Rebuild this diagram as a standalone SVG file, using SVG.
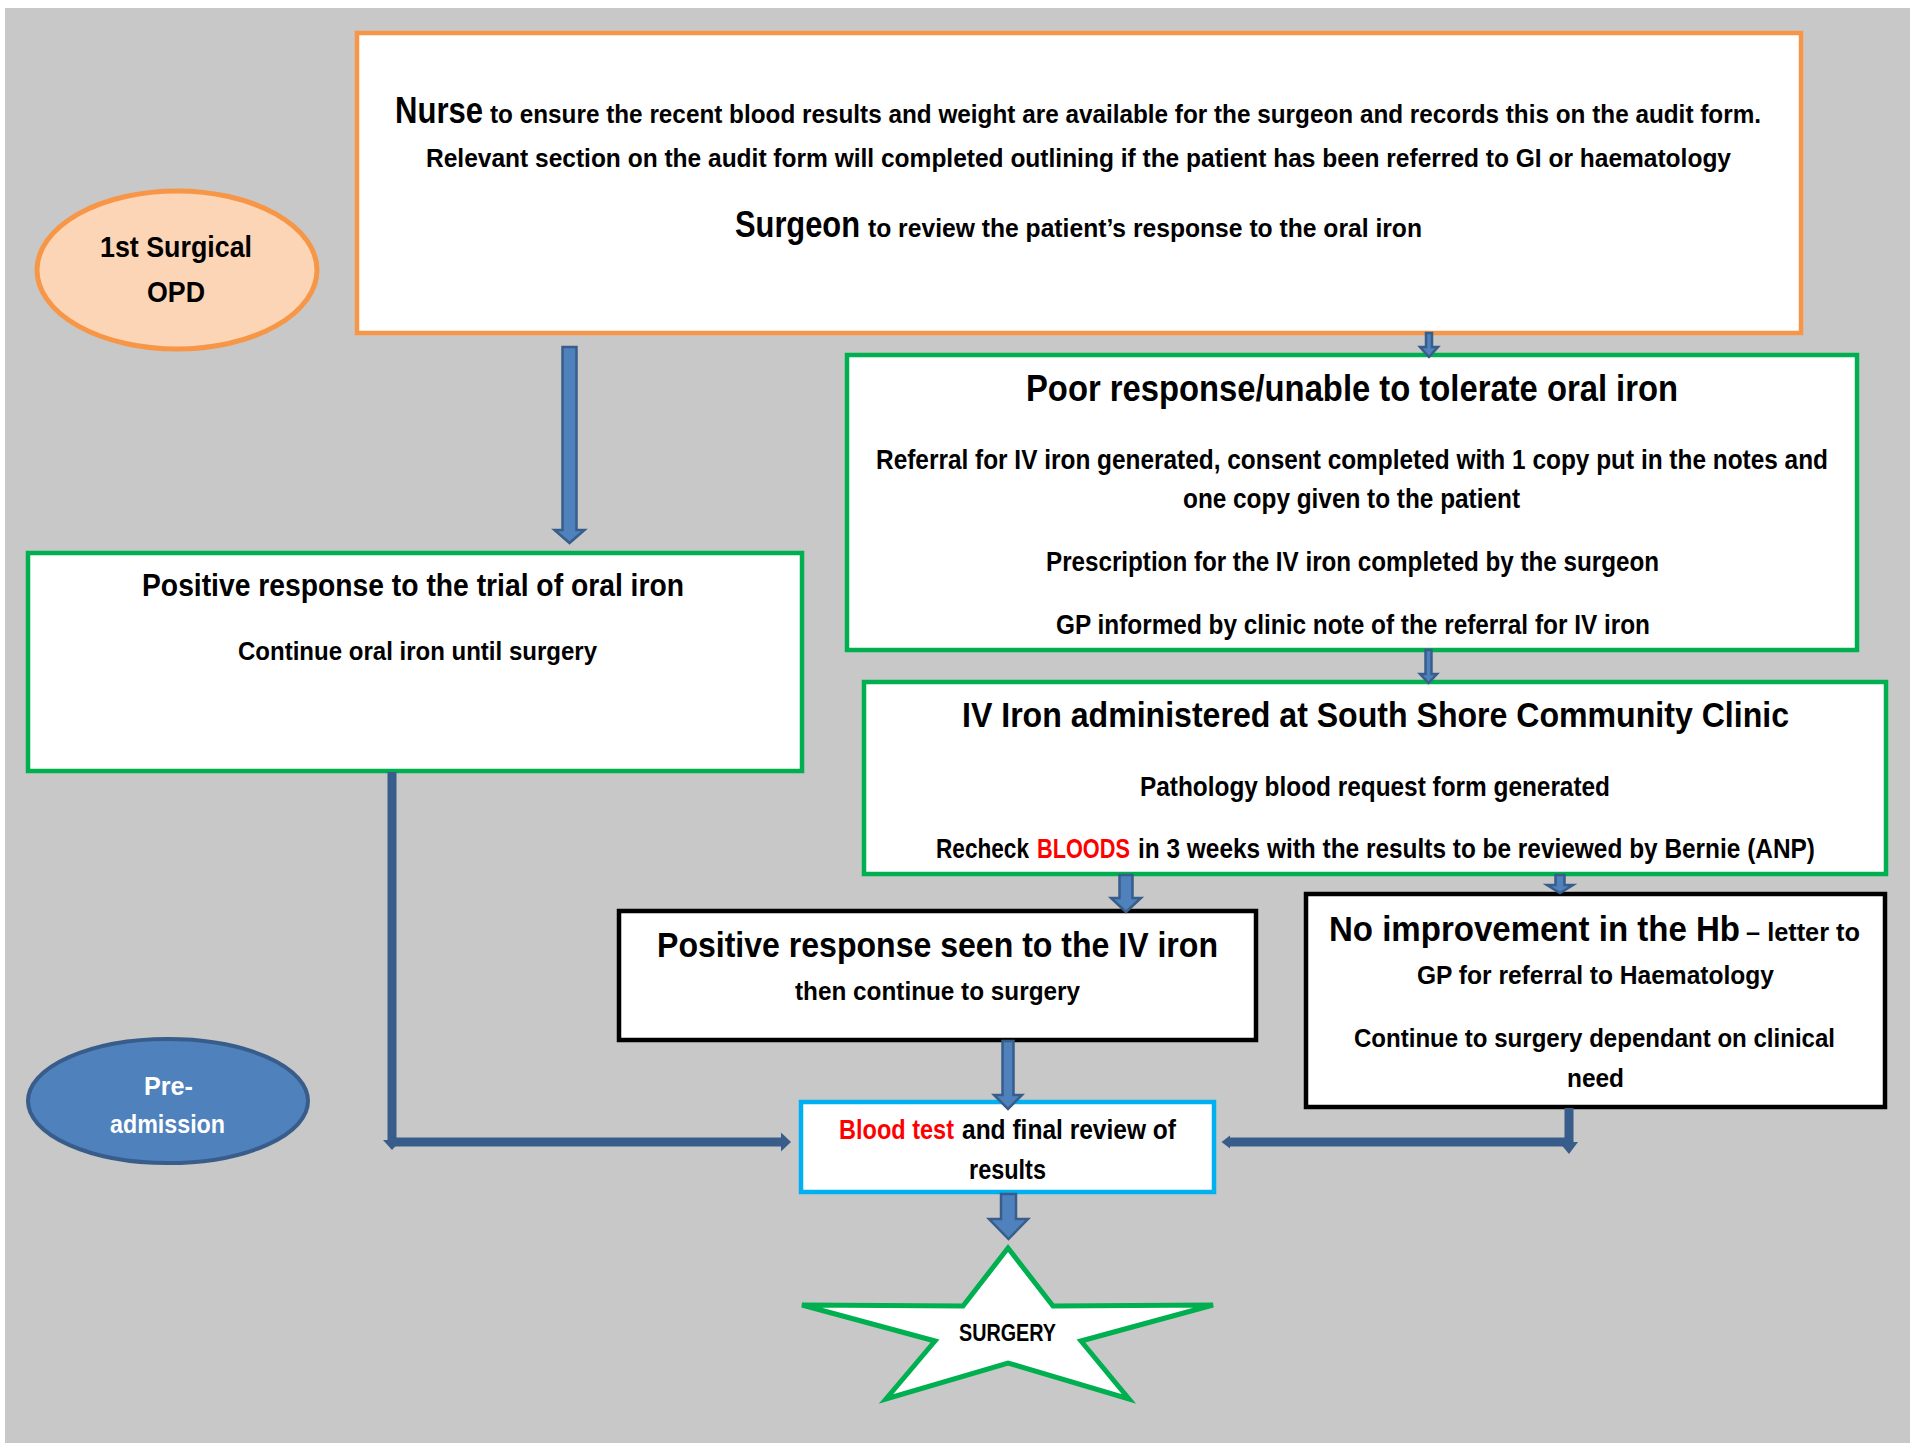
<svg xmlns="http://www.w3.org/2000/svg" width="1910" height="1443" viewBox="0 0 1910 1443">
<defs>
<style>
text{font-family:"Liberation Sans Narrow","Liberation Sans",Arial,sans-serif;font-weight:bold;fill:#000}
.box{fill:#fff;stroke-width:4.5}
.org{stroke:#F79646}
.grn{stroke:#00B050}
.blk{stroke:#000}
.cyn{stroke:#00B0F0}
.arr{fill:#4F81BD;stroke:#385D8A;stroke-width:2.5;stroke-linejoin:miter}
.ln{fill:none;stroke:#385D8A;stroke-width:9}
.hd{fill:#385D8A}
.red{fill:#FF0000}
.wht{fill:#fff}
</style>
</defs>
<rect x="0" y="0" width="1910" height="1443" fill="#fff"/>
<rect x="5" y="8" width="1905" height="1435" fill="#C8C8C8"/>

<g id="opd">
<ellipse cx="177" cy="270" rx="140" ry="79" fill="#FBD5B5" stroke="#F79646" stroke-width="5"/>
<text x="100" y="257" font-size="30" textLength="152" lengthAdjust="spacingAndGlyphs">1st Surgical</text>
<text x="147" y="302" font-size="30" textLength="58" lengthAdjust="spacingAndGlyphs">OPD</text>
</g>

<g id="nurse-surgeon">
<rect class="box org" x="357" y="33" width="1444" height="300"/>
<text x="395" y="123" font-size="36" textLength="88" lengthAdjust="spacingAndGlyphs">Nurse</text>
<text x="490" y="123" font-size="26" textLength="1271" lengthAdjust="spacingAndGlyphs">to ensure the recent blood results and weight are available for the surgeon and records this on the audit form.</text>
<text x="426" y="167" font-size="26" textLength="1305" lengthAdjust="spacingAndGlyphs">Relevant section on the audit form will completed outlining if the patient has been referred to GI or haematology</text>
<text x="735" y="237" font-size="36" textLength="125" lengthAdjust="spacingAndGlyphs">Surgeon</text>
<text x="868" y="237" font-size="26" textLength="554" lengthAdjust="spacingAndGlyphs">to review the patient’s response to the oral iron</text>
</g>

<g id="positive-oral">
<rect class="box grn" x="28" y="553" width="774" height="218"/>
<text x="142" y="596" font-size="32" textLength="542" lengthAdjust="spacingAndGlyphs">Positive response to the trial of oral iron</text>
<text x="238" y="660" font-size="26" textLength="359" lengthAdjust="spacingAndGlyphs">Continue oral iron until surgery</text>
</g>

<g id="poor-response">
<rect class="box grn" x="847" y="355" width="1010" height="295"/>
<text x="1026" y="401" font-size="37" textLength="652" lengthAdjust="spacingAndGlyphs">Poor response/unable to tolerate oral iron</text>
<text transform="scale(0.82 1)" x="1068.3" y="469" font-size="27" textLength="1161" lengthAdjust="spacingAndGlyphs">Referral for IV iron generated, consent completed with 1 copy put in the notes and</text>
<text x="1183" y="508" font-size="27" textLength="337" lengthAdjust="spacingAndGlyphs">one copy given to the patient</text>
<text x="1046" y="571" font-size="27" textLength="613" lengthAdjust="spacingAndGlyphs">Prescription for the IV iron completed by the surgeon</text>
<text x="1056" y="634" font-size="27" textLength="594" lengthAdjust="spacingAndGlyphs">GP informed by clinic note of the referral for IV iron</text>
</g>

<g id="iv-iron">
<rect class="box grn" x="864" y="682" width="1022" height="192"/>
<text x="962" y="727" font-size="35" textLength="827" lengthAdjust="spacingAndGlyphs">IV Iron administered at South Shore Community Clinic</text>
<text x="1140" y="796" font-size="27" textLength="470" lengthAdjust="spacingAndGlyphs">Pathology blood request form generated</text>
<text transform="scale(0.82 1)" x="1141.5" y="858" font-size="27" textLength="113.4" lengthAdjust="spacingAndGlyphs">Recheck</text>
<text class="red" transform="scale(0.82 1)" x="1264.6" y="858" font-size="27" textLength="113.4" lengthAdjust="spacingAndGlyphs">BLOODS</text>
<text transform="scale(0.82 1)" x="1387.8" y="858" font-size="27" textLength="825.6" lengthAdjust="spacingAndGlyphs">in 3 weeks with the results to be reviewed by Bernie (ANP)</text>
</g>

<g id="positive-iv">
<rect class="box blk" x="619" y="911" width="637" height="129"/>
<text x="657" y="957" font-size="35" textLength="561" lengthAdjust="spacingAndGlyphs">Positive response seen to the IV iron</text>
<text x="795" y="1000" font-size="25" textLength="285" lengthAdjust="spacingAndGlyphs">then continue to surgery</text>
</g>

<g id="no-improvement">
<rect class="box blk" x="1306" y="894" width="579" height="213"/>
<text transform="scale(0.82 1)" x="1620.7" y="941" font-size="35" textLength="501.2" lengthAdjust="spacingAndGlyphs">No improvement in the Hb</text>
<text transform="scale(0.82 1)" x="2129.3" y="941" font-size="25" textLength="139" lengthAdjust="spacingAndGlyphs">– letter to</text>
<text x="1417" y="984" font-size="26" textLength="357" lengthAdjust="spacingAndGlyphs">GP for referral to Haematology</text>
<text x="1354" y="1047" font-size="26" textLength="481" lengthAdjust="spacingAndGlyphs">Continue to surgery dependant on clinical</text>
<text x="1567" y="1087" font-size="26" textLength="57" lengthAdjust="spacingAndGlyphs">need</text>
</g>

<g id="blood-test">
<rect class="box cyn" x="801" y="1102" width="413" height="90"/>
<text class="red" x="839" y="1139" font-size="27" textLength="115" lengthAdjust="spacingAndGlyphs">Blood test</text>
<text x="962" y="1139" font-size="27" textLength="214" lengthAdjust="spacingAndGlyphs">and final review of</text>
<text x="969" y="1179" font-size="27" textLength="77" lengthAdjust="spacingAndGlyphs">results</text>
</g>

<g id="surgery">
<polygon points="1008,1248 1053,1306 1213,1305 1081,1341 1129,1399 1008,1363 886,1399 935,1341 802,1305 963,1306" fill="#fff" stroke="#00B050" stroke-width="5" stroke-linejoin="miter"/>
<text x="959" y="1341" font-size="24" textLength="97" lengthAdjust="spacingAndGlyphs">SURGERY</text>
</g>

<g id="pre-admission">
<ellipse cx="168" cy="1101" rx="140" ry="62" fill="#4F81BD" stroke="#385D8A" stroke-width="4"/>
<text class="wht" x="144" y="1095" font-size="26" textLength="49" lengthAdjust="spacingAndGlyphs">Pre-</text>
<text class="wht" x="110" y="1133" font-size="26" textLength="115" lengthAdjust="spacingAndGlyphs">admission</text>
</g>

<g id="connectors">
<path class="arr" d="M562.5,347 H576.5 V530 H584.5 L569.5,543 L554.5,530 H562.5 Z"/>
<path class="arr" d="M1426,333 H1432 V347 H1438 L1429,357 L1420,347 H1426 Z"/>
<path class="arr" d="M1425.5,650 H1431.5 V674 H1437 L1428.5,683 L1420,674 H1425.5 Z"/>
<path class="arr" d="M1119.5,875 H1132.5 V898 H1141 L1126,912 L1111,898 H1119.5 Z"/>
<path class="arr" d="M1555.5,875 H1564.5 V885 H1573 L1560,893 L1547,885 H1555.5 Z"/>
<path class="arr" d="M1002.5,1041 H1013.5 V1095 H1022 L1008,1109 L994,1095 H1002.5 Z"/>
<path class="arr" d="M1001,1194 H1016 V1219 H1028 L1008.5,1239 L989,1219 H1001 Z"/>
<path class="ln" d="M392,772 V1142"/>
<path class="ln" d="M392,1142 H782"/>
<polygon class="hd" points="383,1140 401,1140 392,1150"/>
<polygon class="hd" points="781,1132.5 791,1142 781,1151.5"/>
<path class="ln" d="M1569,1108 V1142"/>
<path class="ln" d="M1573,1142 H1230"/>
<polygon class="hd" points="1230,1135.5 1221.5,1142 1230,1148.5"/>
<polygon class="hd" points="1559,1142 1578,1142 1569,1154"/>
</g>
</svg>
